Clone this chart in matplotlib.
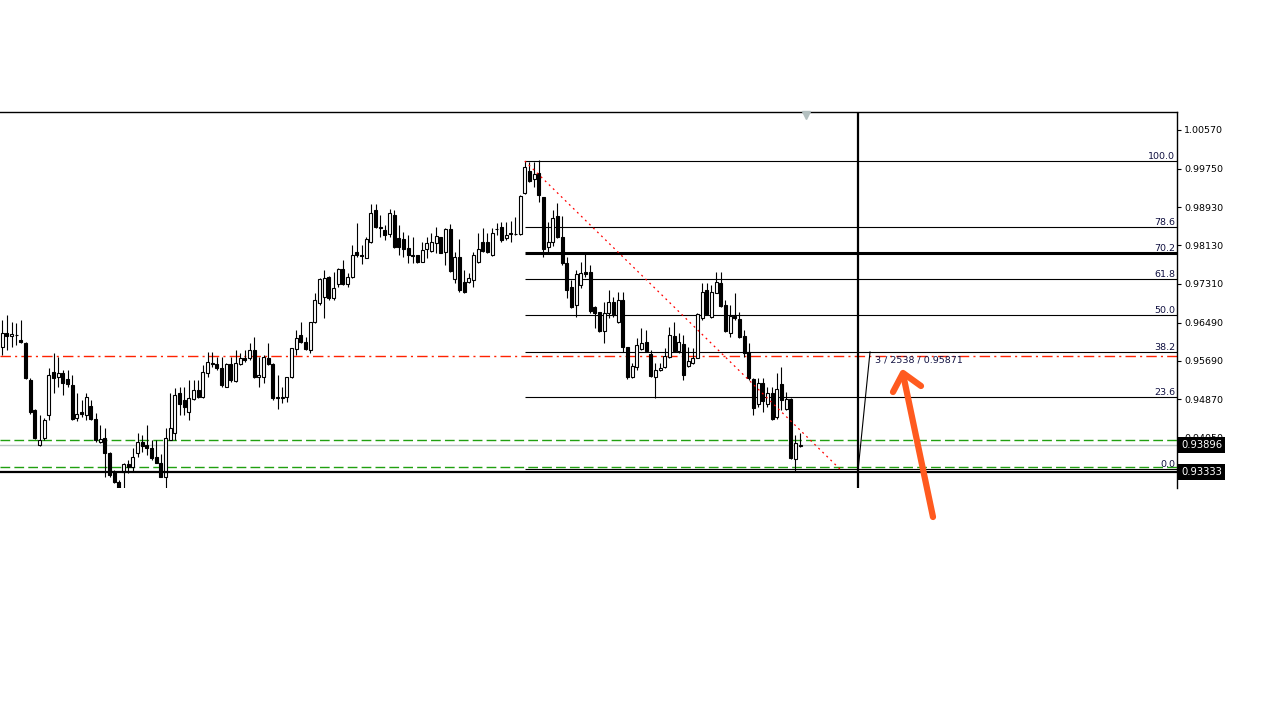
import numpy as np
import matplotlib.pyplot as plt

# --- candle data ---
opens = [0.9598, 0.9627, 0.9621, 0.9623, 0.9613, 0.9606, 0.9528, 0.9464, 0.9390, 0.9405,
         0.9454, 0.9545, 0.9534, 0.9543, 0.9530, 0.9517, 0.9448, 0.9460, 0.9454, 0.9473,
         0.9445, 0.9397, 0.9405, 0.9373, 0.9333, 0.9312, 0.9333, 0.9350, 0.9344, 0.9373,
         0.9397, 0.9390, 0.9384, 0.9365, 0.9352, 0.9323, 0.9401, 0.9416, 0.9500, 0.9486,
         0.9460, 0.9488, 0.9507, 0.9492, 0.9543, 0.9564, 0.9562, 0.9553, 0.9513, 0.9562,
         0.9526, 0.9562, 0.9575, 0.9575, 0.9591, 0.9534, 0.9534, 0.9575, 0.9562, 0.9492,
         0.9490, 0.9492, 0.9534, 0.9593, 0.9623, 0.9608, 0.9591, 0.9651, 0.9691, 0.9704,
         0.9746, 0.9702, 0.9731, 0.9763, 0.9731, 0.9746, 0.9799, 0.9792, 0.9786, 0.9820,
         0.9888, 0.9852, 0.9845, 0.9837, 0.9877, 0.9828, 0.9826, 0.9807, 0.9792, 0.9792,
         0.9778, 0.9805, 0.9801, 0.9818, 0.9831, 0.9799, 0.9847, 0.9742, 0.9788, 0.9735,
         0.9735, 0.9740, 0.9778, 0.9820, 0.9820, 0.9792, 0.9847, 0.9852, 0.9828, 0.9839,
         0.9837, 0.9837, 0.9924, 0.9970, 0.9953, 0.9966, 0.9915, 0.9809, 0.9820, 0.9875,
         0.9831, 0.9775, 0.9725, 0.9687, 0.9729, 0.9757, 0.9757, 0.9682, 0.9672, 0.9632,
         0.9670, 0.9693, 0.9651, 0.9697, 0.9598, 0.9534, 0.9555, 0.9593, 0.9608, 0.9583,
         0.9534, 0.9549, 0.9555, 0.9577, 0.9621, 0.9589, 0.9604, 0.9558, 0.9564, 0.9575,
         0.9659, 0.9718, 0.9661, 0.9712, 0.9733, 0.9687, 0.9627, 0.9663, 0.9657, 0.9621,
         0.9587, 0.9530, 0.9477, 0.9522, 0.9477, 0.9500, 0.9450, 0.9519, 0.9467, 0.9488,
         0.9361, 0.9388]
highs = [0.9655, 0.9665, 0.9651, 0.9649, 0.9655, 0.9608, 0.9532, 0.9467, 0.9454, 0.9448,
         0.9553, 0.9585, 0.9577, 0.9549, 0.9549, 0.9539, 0.9500, 0.9486, 0.9500, 0.9486,
         0.9458, 0.9433, 0.9426, 0.9376, 0.9337, 0.9316, 0.9352, 0.9359, 0.9384, 0.9416,
         0.9412, 0.9433, 0.9401, 0.9401, 0.9371, 0.9426, 0.9500, 0.9511, 0.9513, 0.9513,
         0.9528, 0.9528, 0.9528, 0.9560, 0.9587, 0.9587, 0.9577, 0.9577, 0.9564, 0.9577,
         0.9591, 0.9585, 0.9591, 0.9606, 0.9619, 0.9577, 0.9581, 0.9606, 0.9564, 0.9539,
         0.9513, 0.9534, 0.9596, 0.9634, 0.9651, 0.9619, 0.9651, 0.9712, 0.9744, 0.9761,
         0.9748, 0.9757, 0.9765, 0.9782, 0.9754, 0.9814, 0.9860, 0.9814, 0.9831, 0.9900,
         0.9900, 0.9877, 0.9856, 0.9890, 0.9888, 0.9856, 0.9841, 0.9835, 0.9831, 0.9792,
         0.9820, 0.9831, 0.9839, 0.9852, 0.9831, 0.9850, 0.9858, 0.9799, 0.9826, 0.9761,
         0.9754, 0.9799, 0.9839, 0.9850, 0.9839, 0.9850, 0.9860, 0.9862, 0.9862, 0.9864,
         0.9873, 0.9919, 0.9991, 0.9989, 0.9989, 0.9994, 0.9915, 0.9862, 0.9888, 0.9903,
         0.9875, 0.9788, 0.9740, 0.9761, 0.9778, 0.9799, 0.9771, 0.9685, 0.9672, 0.9693,
         0.9718, 0.9704, 0.9714, 0.9714, 0.9598, 0.9564, 0.9617, 0.9638, 0.9634, 0.9591,
         0.9564, 0.9564, 0.9596, 0.9640, 0.9651, 0.9627, 0.9623, 0.9598, 0.9596, 0.9670,
         0.9733, 0.9733, 0.9729, 0.9757, 0.9757, 0.9697, 0.9687, 0.9712, 0.9672, 0.9634,
         0.9606, 0.9532, 0.9532, 0.9532, 0.9513, 0.9513, 0.9543, 0.9555, 0.9503, 0.9490,
         0.9412, 0.9416]
lows = [0.9581, 0.9591, 0.9598, 0.9602, 0.9606, 0.9530, 0.9456, 0.9403, 0.9388, 0.9401,
        0.9443, 0.9500, 0.9513, 0.9496, 0.9513, 0.9443, 0.9441, 0.9450, 0.9443, 0.9443,
        0.9397, 0.9395, 0.9323, 0.9323, 0.9310, 0.9297, 0.9299, 0.9331, 0.9333, 0.9365,
        0.9376, 0.9369, 0.9359, 0.9352, 0.9323, 0.9299, 0.9401, 0.9401, 0.9454, 0.9454,
        0.9443, 0.9486, 0.9490, 0.9490, 0.9534, 0.9555, 0.9549, 0.9513, 0.9513, 0.9524,
        0.9524, 0.9560, 0.9566, 0.9570, 0.9532, 0.9513, 0.9522, 0.9560, 0.9486, 0.9467,
        0.9479, 0.9481, 0.9532, 0.9581, 0.9606, 0.9591, 0.9585, 0.9649, 0.9687, 0.9659,
        0.9697, 0.9697, 0.9725, 0.9729, 0.9725, 0.9744, 0.9788, 0.9773, 0.9786, 0.9818,
        0.9850, 0.9831, 0.9824, 0.9831, 0.9807, 0.9792, 0.9788, 0.9775, 0.9775, 0.9775,
        0.9778, 0.9786, 0.9799, 0.9797, 0.9797, 0.9771, 0.9757, 0.9733, 0.9714, 0.9712,
        0.9733, 0.9725, 0.9775, 0.9799, 0.9797, 0.9790, 0.9835, 0.9820, 0.9824, 0.9820,
        0.9835, 0.9835, 0.9922, 0.9947, 0.9936, 0.9905, 0.9788, 0.9799, 0.9812, 0.9828,
        0.9771, 0.9702, 0.9680, 0.9661, 0.9723, 0.9746, 0.9670, 0.9638, 0.9630, 0.9606,
        0.9659, 0.9661, 0.9649, 0.9587, 0.9530, 0.9532, 0.9549, 0.9591, 0.9587, 0.9534,
        0.9490, 0.9547, 0.9553, 0.9575, 0.9587, 0.9585, 0.9528, 0.9555, 0.9562, 0.9575,
        0.9655, 0.9665, 0.9659, 0.9712, 0.9682, 0.9630, 0.9619, 0.9655, 0.9617, 0.9577,
        0.9528, 0.9454, 0.9471, 0.9460, 0.9471, 0.9443, 0.9445, 0.9464, 0.9464, 0.9361,
        0.9335, 0.9386]
closes = [0.9627, 0.9621, 0.9625, 0.9623, 0.9608, 0.9532, 0.9460, 0.9405, 0.9401, 0.9443,
          0.9539, 0.9532, 0.9543, 0.9522, 0.9519, 0.9445, 0.9456, 0.9456, 0.9492, 0.9445,
          0.9401, 0.9403, 0.9373, 0.9327, 0.9312, 0.9299, 0.9350, 0.9344, 0.9365, 0.9397,
          0.9388, 0.9384, 0.9363, 0.9352, 0.9323, 0.9405, 0.9426, 0.9496, 0.9477, 0.9471,
          0.9490, 0.9507, 0.9492, 0.9545, 0.9566, 0.9562, 0.9553, 0.9517, 0.9562, 0.9528,
          0.9564, 0.9575, 0.9570, 0.9591, 0.9534, 0.9539, 0.9577, 0.9562, 0.9490, 0.9490,
          0.9492, 0.9534, 0.9596, 0.9617, 0.9608, 0.9593, 0.9651, 0.9697, 0.9742, 0.9744,
          0.9702, 0.9723, 0.9763, 0.9731, 0.9746, 0.9792, 0.9792, 0.9790, 0.9826, 0.9881,
          0.9852, 0.9850, 0.9835, 0.9881, 0.9809, 0.9809, 0.9805, 0.9792, 0.9790, 0.9778,
          0.9803, 0.9818, 0.9820, 0.9833, 0.9797, 0.9847, 0.9759, 0.9788, 0.9718, 0.9714,
          0.9744, 0.9792, 0.9805, 0.9801, 0.9799, 0.9839, 0.9847, 0.9824, 0.9835, 0.9837,
          0.9837, 0.9917, 0.9979, 0.9949, 0.9964, 0.9920, 0.9805, 0.9820, 0.9871, 0.9831,
          0.9775, 0.9718, 0.9682, 0.9752, 0.9754, 0.9752, 0.9674, 0.9670, 0.9632, 0.9670,
          0.9693, 0.9665, 0.9697, 0.9598, 0.9534, 0.9558, 0.9602, 0.9606, 0.9589, 0.9536,
          0.9549, 0.9553, 0.9579, 0.9623, 0.9589, 0.9608, 0.9539, 0.9568, 0.9575, 0.9668,
          0.9714, 0.9668, 0.9714, 0.9735, 0.9685, 0.9632, 0.9663, 0.9659, 0.9619, 0.9585,
          0.9532, 0.9469, 0.9522, 0.9483, 0.9500, 0.9445, 0.9509, 0.9486, 0.9488, 0.9363,
          0.9395, 0.93896]

# axis labels of the price scale
price_ticks = [0.93230, 0.94050, 0.94870, 0.95690, 0.96490, 0.97310, 0.98130,
               0.98930, 0.99750, 1.00570]

# fibonacci retracement
fib_levels = [0.0, 23.6, 38.2, 50.0, 61.8, 70.2, 78.6, 100.0]
fib_low, fib_high = 0.93387, 0.99914
fib_start, fib_end = 112, 179.6

# other objects on the chart
red_level = 0.9579
green_levels = [0.9401, 0.9344]
bid_price = 0.93896
black_level = 0.93333
vline_bar = 183.4
cross_start = (183.4, 0.93333)
cross_end = (186.0, 0.95871)
cross_text = "3 / 2538 / 0.95871"
shift_bar = 172.3

fig = plt.figure(figsize=(12.8, 7.2), dpi=100)
ax = fig.add_axes([0, 232 / 720, 1177 / 1280, 376 / 720])
ax.set_xlim(-0.49, 251.8)
ax.set_ylim(0.92991, 1.00951)

x = np.arange(len(opens))
o = np.array(opens)
c = np.array(closes)
ax.vlines(x, lows, highs, color='black', lw=0.8, zorder=2)
up = c >= o
ax.bar(x[up], (c - o)[up], bottom=o[up], width=0.66, color='white',
       edgecolor='black', lw=0.8, zorder=3)
ax.bar(x[~up], (o - c)[~up], bottom=c[~up], width=0.66, color='black',
       edgecolor='black', lw=0.8, zorder=3)

# horizontal lines
ax.axhline(red_level, color='#FF2200', lw=1, dashes=(7.5, 3, 1.5, 3), zorder=1)
for g in green_levels:
    ax.axhline(g, color='#20A010', lw=1, dashes=(7, 3), zorder=1)
ax.axhline(bid_price, color='#BCC6C6', lw=1, zorder=1)
ax.axhline(black_level, color='black', lw=1.6, zorder=4)

# fibo
x_right = ax.get_xlim()[1]
for lev in fib_levels:
    p = fib_low + lev / 100 * (fib_high - fib_low)
    ax.hlines(p, fib_start, x_right, color='black', lw=2.2 if lev == 70.2 else 0.8, zorder=1)
    ax.text(0.9983, p, f'{lev:.1f}', transform=ax.get_yaxis_transform(), ha='right',
            va='bottom', fontsize=6.8, color='#101040')
ax.plot([fib_start, fib_end], [fib_high, fib_low], color='red', lw=0.9, dashes=(1.5, 3), zorder=4)

# vertical line + crosshair
ax.axvline(vline_bar, color='black', lw=1.6, zorder=4)
ax.plot([cross_start[0], cross_end[0]], [cross_start[1], cross_end[1]], color='black', lw=0.8, zorder=5)
ax.annotate(cross_text, xy=cross_end, xytext=(5, -8), textcoords='offset pixels',
            ha='left', va='center', fontsize=6.8, color='#101040')

# chart shift marker
ax.plot([shift_bar], [0.993], marker='v', ms=6, color='#B4C0C0', transform=ax.get_xaxis_transform(),
        clip_on=False, zorder=6)

# price scale
ax.yaxis.tick_right()
ax.set_yticks(price_ticks)
ax.set_yticklabels([f'{t:.5f}' for t in price_ticks])
ax.tick_params(axis='y', direction='out', length=3, width=0.8, pad=2, labelsize=6.8,
               colors='black')
ax.set_xticks([])
for s in ['left', 'bottom']:
    ax.spines[s].set_visible(False)
for s in ['top', 'right']:
    ax.spines[s].set_linewidth(1.0)

for p in [bid_price, black_level]:
    ax.annotate(f'{p:.5f}', xy=(1, p), xycoords=ax.get_yaxis_transform(), xytext=(4, 0),
                textcoords='offset pixels', ha='left', va='center', fontsize=7.2, color='white',
                annotation_clip=False, zorder=10,
                bbox=dict(boxstyle='square,pad=0.3', fc='black', ec='none'))

# orange arrow
fig.add_artist(plt.Line2D([933, 903], [720 - 517, 720 - 374], transform=None, color='#FF5A1F',
                          lw=4.5, solid_capstyle='round'))
fig.add_artist(plt.Line2D([893, 903, 921], [720 - 392, 720 - 373, 720 - 386], transform=None,
                          color='#FF5A1F', lw=4.5, solid_capstyle='round', solid_joinstyle='round'))

fig.savefig('out.png', dpi=100, facecolor='white')
